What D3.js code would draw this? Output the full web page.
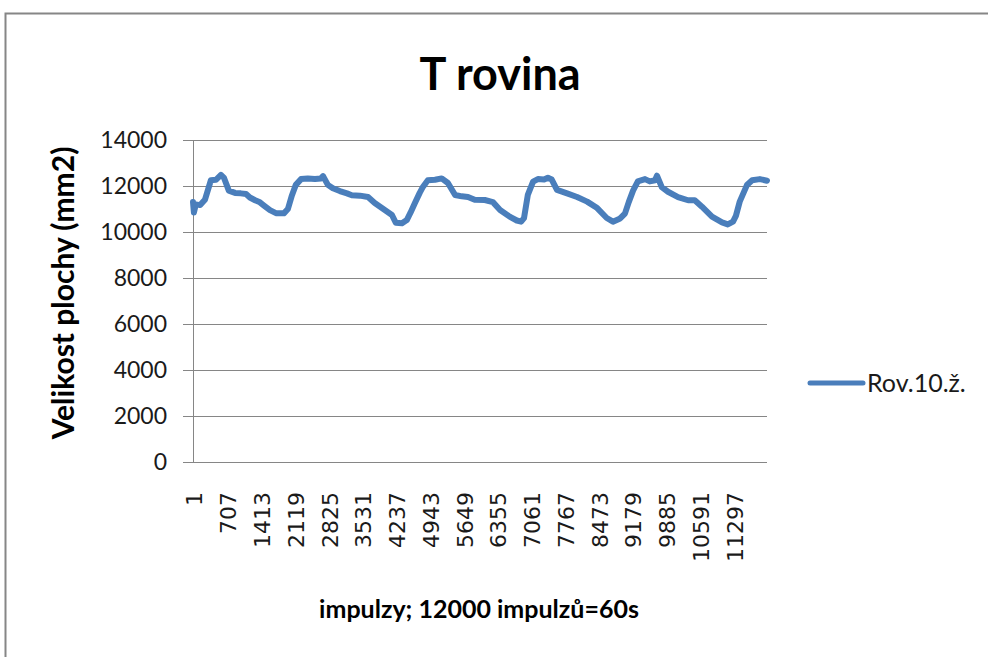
<!DOCTYPE html>
<html><head><meta charset="utf-8">
<script src="https://cdn.jsdelivr.net/npm/d3@7"></script>
<style>html,body{margin:0;padding:0;background:#fff;}svg{display:block;}</style>
</head><body>
<svg id="chart" width="988" height="657"></svg>
<script>
const title = "T rovina";
const seriesName = "Rov.10.ž.";
const xTitle = "impulzy; 12000 impulzů=60s";
const yTitle = "Velikost plochy (mm2)";
const categoryCount = 12000;
const xTickLabels = [1,707,1413,2119,2825,3531,4237,4943,5649,6355,7061,7767,8473,9179,9885,10591,11297];
const yTicks = [0,2000,4000,6000,8000,10000,12000,14000];
const impulses = [1,20,60,150,250,375,480,585,650,750,880,1000,1110,1190,1300,1400,1485,1610,1735,1900,1985,2070,2150,2260,2400,2550,2675,2720,2820,2925,3070,3220,3320,3490,3660,3800,4010,4160,4240,4370,4470,4550,4640,4740,4810,4910,5060,5200,5330,5480,5620,5750,5890,6100,6270,6420,6620,6770,6860,6920,7000,7110,7210,7340,7420,7500,7610,7820,8030,8240,8450,8650,8780,8930,9030,9110,9200,9300,9450,9550,9660,9700,9800,9930,10140,10350,10490,10640,10850,11060,11180,11290,11350,11430,11580,11690,11850,12000];
const areaValues = [11300,10850,11200,11170,11400,12250,12270,12480,12350,11800,11700,11680,11650,11500,11380,11290,11150,10950,10820,10810,11000,11600,12050,12300,12330,12300,12330,12430,12050,11900,11780,11680,11600,11580,11520,11260,10960,10740,10400,10380,10520,10850,11260,11700,11970,12250,12270,12330,12130,11610,11550,11520,11400,11390,11300,10960,10670,10500,10450,10600,11610,12190,12300,12280,12360,12280,11830,11680,11520,11320,11040,10610,10450,10590,10800,11300,11800,12200,12300,12200,12250,12450,11950,11750,11520,11380,11380,11100,10670,10420,10330,10450,10700,11320,12040,12250,12300,12230];

(function () {
const svg = d3.select("#chart");
const pLeft = 193, pRight = 767, pTop = 140, pBottom = 462;
const grid = "#868686";
const blue = "#4a7ebb";
const font = "Lato, 'Open Sans', sans-serif";

svg.append("path").attr("d", "M5.5,657 L5.5,13.5 L988,13.5").attr("fill","none").attr("stroke", grid).attr("stroke-width", 2);

const x = d3.scaleLinear().domain([1, categoryCount]).range([pLeft, pRight]);
const y = d3.scaleLinear().domain([0, 14000]).range([pBottom, pTop]);

svg.append("g").selectAll("line").data(yTicks).join("line")
  .attr("x1", pLeft - 10).attr("x2", pRight)
  .attr("y1", d => Math.round(y(d)) + 0.5).attr("y2", d => Math.round(y(d)) + 0.5)
  .attr("stroke", grid).attr("stroke-width", 1);

svg.append("line").attr("x1", pLeft + 0.5).attr("x2", pLeft + 0.5).attr("y1", pTop).attr("y2", pBottom + 0.5)
  .attr("stroke", grid).attr("stroke-width", 1);

svg.append("g").selectAll("text").data(yTicks).join("text")
  .attr("x", 167).attr("y", d => y(d)).attr("dy", "0.36em")
  .attr("text-anchor", "end").attr("font-family", font).attr("font-size", 23).attr("fill", "#1a1a1a")
  .text(d => d);

svg.append("g").selectAll("text").data(xTickLabels).join("text")
  .attr("transform", d => `translate(${x(d) + 1.5},492) rotate(-90)`)
  .attr("dy", "0.36em")
  .attr("text-anchor", "end").attr("font-family", "'DejaVu Sans', sans-serif").attr("font-size", 22).attr("fill", "#1a1a1a")
  .text(d => d);

const line = d3.line().x((d, i) => x(impulses[i])).y(d => y(d)).curve(d3.curveLinear);
svg.append("path").datum(areaValues).attr("d", line)
  .attr("fill", "none").attr("stroke", blue).attr("stroke-width", 6)
  .attr("stroke-linejoin", "round").attr("stroke-linecap", "round");

svg.append("text").attr("x", 500).attr("y", 90).attr("text-anchor", "middle")
  .attr("font-family", font).attr("font-weight", "bold").attr("font-size", 45).attr("fill", "#000").text(title);

svg.append("text").attr("transform", "translate(63,293) rotate(-90)").attr("dy", "0.36em")
  .attr("text-anchor", "middle").attr("font-family", font).attr("font-weight", "bold").attr("font-size", 30).attr("fill", "#000").text(yTitle);

svg.append("text").attr("x", 479).attr("y", 618).attr("text-anchor", "middle")
  .attr("font-family", font).attr("font-weight", "bold").attr("font-size", 25).attr("fill", "#000").text(xTitle);

svg.append("line").attr("x1", 810).attr("x2", 863).attr("y1", 383).attr("y2", 383)
  .attr("stroke", blue).attr("stroke-width", 5).attr("stroke-linecap", "round");
svg.append("text").attr("x", 867).attr("y", 383).attr("dy", "0.36em")
  .attr("font-family", font).attr("font-size", 25).attr("fill", "#1a1a1a").text(seriesName);
})();
</script>
</body></html>
